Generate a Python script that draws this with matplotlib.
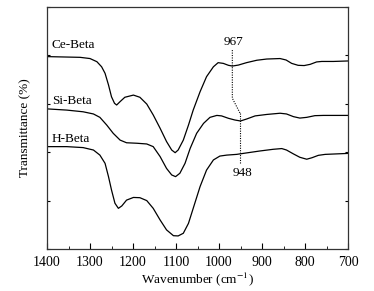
import matplotlib
matplotlib.use("Agg")
import matplotlib.pyplot as plt
from matplotlib.ticker import MultipleLocator

plt.rcParams['font.family'] = ['Liberation Serif', 'DejaVu Serif']
plt.rcParams['mathtext.fontset'] = 'stix'

ce_wn = [1400, 1323, 1300, 1284, 1273, 1265, 1257, 1250, 1243, 1238, 1230, 1219, 1199, 1184,
         1168, 1153, 1137, 1122, 1110, 1102, 1095, 1083, 1071, 1060, 1044, 1029, 1013, 1002,
         990, 978, 969, 955, 936, 912, 889, 858, 844, 831, 816, 802, 788, 773, 761, 734, 700]
ce_t = [79.5, 79.2, 78.7, 77.4, 75.3, 72.6, 67.8, 62.9, 60.2, 59.5, 60.9, 62.7, 63.6, 62.7,
        59.9, 55.4, 49.9, 44.4, 40.9, 39.8, 40.9, 45.0, 51.2, 57.4, 65.0, 71.2, 75.3, 77.0,
        76.7, 75.9, 75.6, 76.0, 77.0, 78.0, 78.5, 78.7, 78.1, 76.7, 75.9, 75.8, 76.3, 77.3,
        77.5, 77.5, 77.7]

si_wn = [1400, 1354, 1316, 1292, 1277, 1261, 1246, 1230, 1215, 1191, 1168, 1153, 1137, 1122,
         1110, 1101, 1091, 1079, 1067, 1052, 1036, 1021, 1005, 994, 978, 963, 950, 936, 916,
         889, 858, 843, 827, 812, 796, 777, 757, 700]
si_t = [57.9, 57.4, 56.7, 55.8, 54.4, 51.2, 47.8, 45.0, 43.9, 43.7, 43.4, 42.3, 38.2, 33.3,
        30.6, 29.9, 31.3, 35.4, 41.6, 47.8, 51.9, 54.4, 55.2, 55.0, 54.0, 53.3, 52.9, 53.7,
        55.0, 55.6, 56.1, 55.8, 54.7, 54.1, 54.4, 55.1, 55.2, 55.2]

h_wn = [1400, 1354, 1316, 1292, 1277, 1265, 1257, 1250, 1242, 1234, 1226, 1215, 1199, 1184,
        1168, 1153, 1137, 1122, 1106, 1095, 1083, 1071, 1060, 1044, 1029, 1013, 998, 982,
        959, 936, 905, 874, 854, 843, 827, 812, 796, 784, 769, 753, 700]
h_t = [42.3, 42.3, 41.9, 40.9, 38.8, 35.4, 29.9, 24.4, 18.9, 16.8, 17.8, 20.2, 21.3, 21.2,
       20.0, 16.8, 12.0, 7.9, 5.5, 5.4, 6.5, 10.6, 16.8, 25.8, 32.6, 36.8, 38.4, 38.8,
       39.1, 39.7, 40.5, 41.2, 41.5, 40.9, 39.3, 37.9, 37.1, 37.7, 38.7, 39.1, 39.5]

series_names = ["Ce-Beta", "Si-Beta", "H-Beta"]
label_y = [84.3, 61.2, 45.3]

peak_labels = ["967", "948"]
dot_x = [969, 969, 951, 951, 951]
dot_y = [82.2, 62.3, 56.1, 56.1, 35.4]

fig = plt.figure(figsize=(3.74, 2.91), dpi=100)
ax = fig.add_axes([47/374, 1 - 249/291, 301/374, 242/291])

for wn, t in [(ce_wn, ce_t), (si_wn, si_t), (h_wn, h_t)]:
    ax.plot(wn, t, color='black', lw=0.9, solid_joinstyle='round')

ax.plot(dot_x[:3], dot_y[:3], color='black', lw=0.8, ls=(0, (1, 1.2)))
ax.plot(dot_x[3:], dot_y[3:], color='black', lw=0.8, ls=(0, (1, 1.2)))
ax.text(967, 85.7, peak_labels[0], ha='center', va='center', fontsize=9.5)
ax.text(946, 31.3, peak_labels[1], ha='center', va='center', fontsize=9.5)

for name, y in zip(series_names, label_y):
    ax.text(1389, y, name, ha='left', va='center', fontsize=9.5)

ax.set_xlim(1400, 700)
ax.set_ylim(0, 100)
ax.xaxis.set_major_locator(MultipleLocator(100))
ax.xaxis.set_minor_locator(MultipleLocator(50))
ax.yaxis.set_major_locator(MultipleLocator(20))
ax.set_yticklabels([])
ax.tick_params(axis='x', which='both', direction='in', top=False, labelsize=10, pad=5)
ax.tick_params(axis='x', which='major', length=4)
ax.tick_params(axis='x', which='minor', length=2.5)
ax.tick_params(axis='y', direction='in', left=True, right=True, length=2.5)
for s in ax.spines.values():
    s.set_linewidth(0.9)
    s.set_color('#333333')

ax.set_xlabel("Wavenumber (cm$^{-1}$)", fontsize=9.5, labelpad=1)
ax.set_ylabel("Transmittance (%)", fontsize=9.5, labelpad=8)

fig.savefig("out.png", dpi=100)
